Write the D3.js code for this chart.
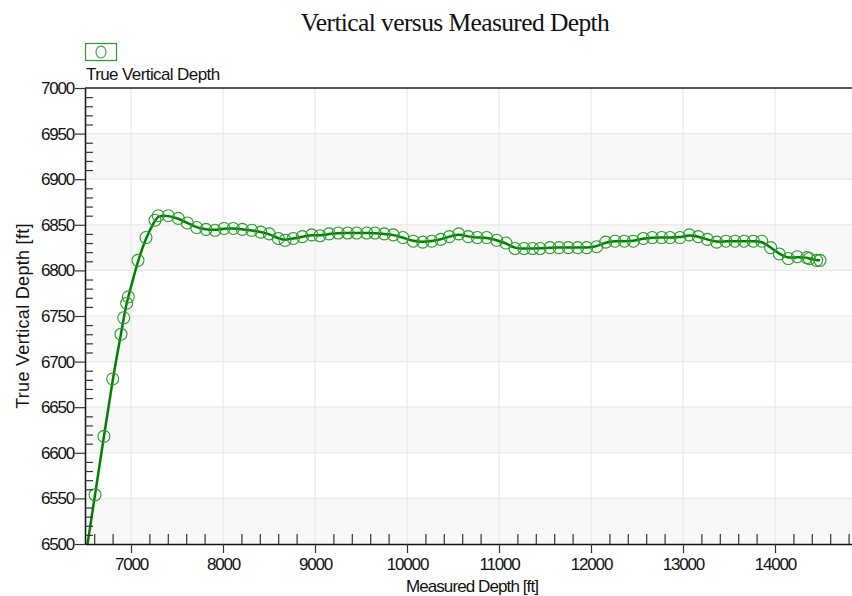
<!DOCTYPE html>
<html>
<head>
<meta charset="utf-8">
<script src="https://cdn.jsdelivr.net/npm/d3@7"></script>
<style>
  html, body { margin: 0; padding: 0; background: #fff; }
  svg { display: block; }
  .lbl { font-family: "Liberation Sans", Arial, sans-serif; fill: #111; }
</style>
</head>
<body>
<svg id="chart" width="852" height="596"></svg>
<script>
// Survey stations: measured depth [ft] and true vertical depth [ft]
const measuredDepth = [6500, 6609, 6706, 6801, 6891, 6921, 6953, 6971, 7076, 7163, 7261, 7297, 7405, 7514, 7612, 7714,
  7815, 7913, 8011, 8112, 8210, 8312, 8410, 8503, 8601, 8674, 8764, 8862, 8964, 9054, 9152, 9253, 9355, 9453, 9562,
  9652, 9753, 9851, 9955, 10068, 10171, 10268, 10366, 10460, 10562, 10666, 10764, 10866, 10975, 11076, 11174, 11272,
  11366, 11446, 11554, 11652, 11753, 11855, 11953, 12062, 12160, 12261, 12362, 12460, 12568, 12666, 12768, 12859,
  12967, 13068, 13166, 13264, 13366, 13467, 13565, 13663, 13764, 13855, 13953, 14047, 14145, 14242, 14345, 14373,
  14453, 14489];
const trueVerticalDepth = [6482, 6554, 6618, 6681, 6730, 6748, 6764, 6771, 6811, 6836, 6855, 6860, 6860, 6857, 6852, 6847,
  6845, 6844, 6846, 6846, 6845, 6844, 6842, 6840, 6835, 6833, 6835, 6837, 6839, 6838, 6840, 6841, 6841, 6841, 6841,
  6841, 6840, 6839, 6836, 6832, 6831, 6832, 6834, 6837, 6840, 6837, 6836, 6836, 6833, 6830, 6824, 6824, 6824,
  6824, 6825, 6825, 6825, 6825, 6825, 6826, 6831, 6832, 6832, 6832, 6835, 6836, 6836, 6836,
  6836, 6839, 6837, 6834, 6831, 6832, 6832, 6832, 6832, 6832, 6825, 6818, 6813, 6815, 6814, 6813,
  6811, 6811];

const xMajorTicks = [7000, 8000, 9000, 10000, 11000, 12000, 13000, 14000];
const yMajorTicks = [6500, 6550, 6600, 6650, 6700, 6750, 6800, 6850, 6900, 6950, 7000];

const titleText = "Vertical versus Measured Depth";
const seriesName = "True Vertical Depth";
const xTitle = "Measured Depth [ft]";
const yTitle = "True Vertical Depth [ft]";

const lineColor = "#008000";
const markerColor = "#2a9a2a";

const svg = d3.select("#chart");
const L = 85, R = 852, T = 88, B = 544;

const x = d3.scaleLinear().domain([6500, 14837]).range([L, R]);
const y = d3.scaleLinear().domain([6500, 7000]).range([B, T]);

const points = measuredDepth.map((md, i) => ({ md, tvd: trueVerticalDepth[i] }));

// Alternating horizontal bands
const bands = d3.pairs(yMajorTicks).filter((_, i) => i % 2 === 0);
svg.append("g").selectAll("rect").data(bands).join("rect")
  .attr("x", L).attr("width", R - L)
  .attr("y", d => y(d[1])).attr("height", d => y(d[0]) - y(d[1]))
  .attr("fill", "#f8f8f8");

// Grid lines
svg.append("g").selectAll("line").data(yMajorTicks.slice(1, -1)).join("line")
  .attr("x1", L).attr("x2", R).attr("y1", d => y(d)).attr("y2", d => y(d))
  .attr("stroke", "#e8e8e8").attr("stroke-width", 1.2);
svg.append("g").selectAll("line").data(xMajorTicks).join("line")
  .attr("y1", T).attr("y2", B).attr("x1", d => x(d)).attr("x2", d => x(d))
  .attr("stroke", "#e8e8e8").attr("stroke-width", 1.2);

// Top border
svg.append("line").attr("x1", L).attr("x2", R).attr("y1", T).attr("y2", T)
  .attr("stroke", "#222").attr("stroke-width", 1.3);

// Data line and markers, clipped to the plot area
svg.append("clipPath").attr("id", "plotClip")
  .append("rect").attr("x", L).attr("y", T).attr("width", R - L).attr("height", B - T);
const plot = svg.append("g").attr("clip-path", "url(#plotClip)");

const line = d3.line().x(d => x(d.md)).y(d => y(d.tvd)).curve(d3.curveBasis);
plot.append("path").datum(points).attr("d", line)
  .attr("fill", "none").attr("stroke", lineColor).attr("stroke-width", 2.5);

plot.append("g").selectAll("circle").data(points).join("circle")
  .attr("cx", d => x(d.md)).attr("cy", d => y(d.tvd)).attr("r", 6)
  .attr("fill", "none").attr("stroke", markerColor).attr("stroke-width", 1.1);

// X axis: labelled majors below, minor ticks pointing into the plot
const xMinor = d3.range(6600, 14837, 200).filter(v => v % 1000 !== 0);
svg.append("g").attr("transform", `translate(0,${B})`)
  .call(d3.axisBottom(x).tickValues(xMajorTicks).tickSize(9).tickSizeOuter(0).tickPadding(5).tickFormat(d3.format("d")));
const xAxisMinor = svg.append("g").attr("transform", `translate(0,${B})`)
  .call(d3.axisTop(x).tickValues(xMinor).tickSize(10).tickSizeOuter(0).tickFormat(""));
xAxisMinor.select(".domain").remove();

// Y axis: labelled majors to the left, minor ticks every 10 ft inside
const yMinor = d3.range(6510, 7000, 10).filter(v => v % 50 !== 0);
svg.append("g").attr("transform", `translate(${L},0)`)
  .call(d3.axisLeft(y).tickValues(yMajorTicks).tickSize(10).tickSizeOuter(0).tickPadding(1).tickFormat(d3.format("d")));
const yAxisMinor = svg.append("g").attr("transform", `translate(${L},0)`)
  .call(d3.axisRight(y).tickValues(yMinor).tickSize(8).tickSizeOuter(0).tickFormat(""));
yAxisMinor.select(".domain").remove();

svg.selectAll(".domain").attr("stroke", "#111").attr("stroke-width", 1.5);
svg.selectAll(".tick line").attr("stroke", "#333").attr("stroke-width", 1.2);
svg.selectAll(".tick text")
  .attr("font-family", "'Liberation Sans', Arial, sans-serif")
  .attr("font-size", 17).attr("letter-spacing", -1.2).attr("fill", "#111");

// Title
svg.append("text").attr("x", 455).attr("y", 31).attr("text-anchor", "middle")
  .attr("font-family", "'Liberation Serif', 'Times New Roman', serif")
  .attr("font-size", 25.5).attr("letter-spacing", -0.6).attr("fill", "#111").text(titleText);

// Legend
svg.append("rect").attr("x", 85.5).attr("y", 43.5).attr("width", 31).attr("height", 17)
  .attr("fill", "#fff").attr("stroke", markerColor).attr("stroke-width", 1.2);
svg.append("ellipse").attr("cx", 101).attr("cy", 52).attr("rx", 5).attr("ry", 6)
  .attr("fill", "none").attr("stroke", markerColor).attr("stroke-width", 1.1);
svg.append("text").attr("class", "lbl").attr("x", 86).attr("y", 80)
  .attr("font-size", 17).attr("letter-spacing", -0.6).text(seriesName);

// Axis titles
svg.append("text").attr("class", "lbl").attr("x", 472).attr("y", 592).attr("text-anchor", "middle")
  .attr("font-size", 17).attr("letter-spacing", -0.9).text(xTitle);
svg.append("text").attr("class", "lbl").attr("transform", "translate(29,316) rotate(-90)")
  .attr("text-anchor", "middle").attr("font-size", 18).attr("letter-spacing", 0.3).text(yTitle);
</script>
</body>
</html>
